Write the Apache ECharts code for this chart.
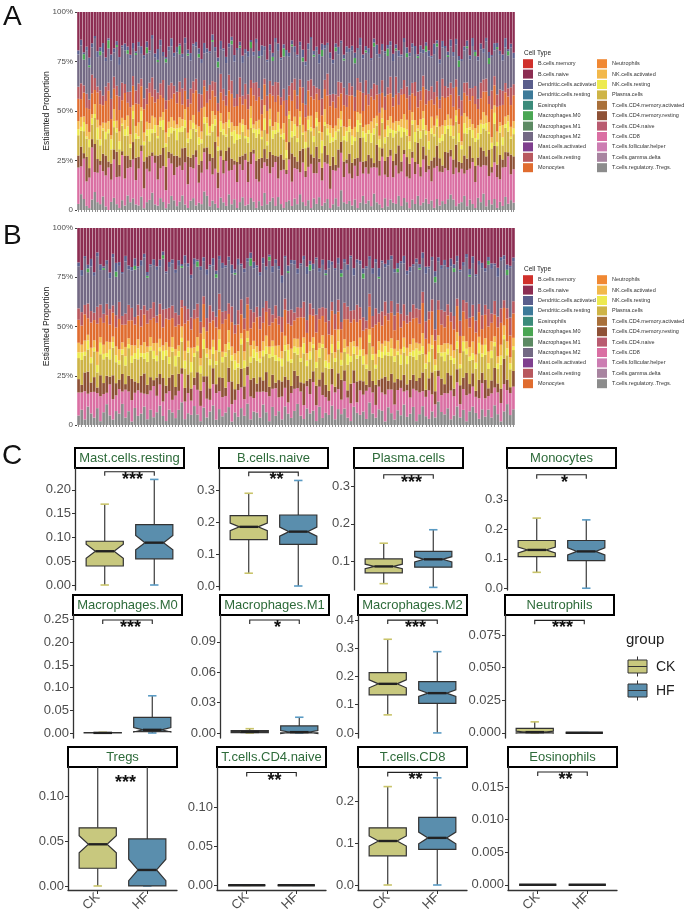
<!DOCTYPE html>
<html><head><meta charset="utf-8">
<script src="https://cdn.jsdelivr.net/npm/echarts@6/dist/echarts.min.js"></script>
<style>html,body{margin:0;padding:0;background:#fff}#c{width:690px;height:915px}</style>
</head><body><div id="c"></div>
<script>
// ---------- Cell types (legend order) ----------
const cellTypes = ['B.cells.memory','B.cells.naive','Dendritic.cells.activated','Dendritic.cells.resting','Eosinophils','Macrophages.M0','Macrophages.M1','Macrophages.M2','Mast.cells.activated','Mast.cells.resting','Monocytes','Neutrophils','NK.cells.activated','NK.cells.resting','Plasma.cells','T.cells.CD4.memory.activated','T.cells.CD4.memory.resting','T.cells.CD4.naive','T.cells.CD8','T.cells.follicular.helper','T.cells.gamma.delta','T.cells.regulatory..Tregs.'];
const propTicks = [0, 0.25, 0.5, 0.75, 1];
const propTickLabels = ['0', '25%', '50%', '75%', '100%'];

// ---------- Panel A estimated proportions (percent, per sample) ----------
const tregsA = [3,8,6,2,1,5,9,4,3,7,2,0,4,6,3,1,5,2,8,4,6,3,2,7,1,4,5,9,3,2,6,4,1,3,7,5,2,4,8,3,1,5,6,2,4,3,9,7,2,5,3,1,6,4,2,8,3,5,1,4,7,2,3,6,4,1,5,2,9,3,4,6,2,7,3,1,4,5,2,6,3,8,4,2,5,1,6,3,7,2,4,5,1,3,6,2,9,4,3,5,2,6,1,4,7,3,5,2,8,4,3,1,6,2,5,4,3,7,2,6,4,1,5,3,8,2,4,6,3,5,1,7,2,4,3,6,9,5,2,3,4,7,2,5,3,1,6,4,8,2,5,3,6,1,4,2,7,3,5,4];
const cd8A = [18,14,22,12,16,25,10,15,20,13,17,21,11,19,14,16,23,12,15,18,20,13,16,24,11,17,14,19,22,12,15,18,10,21,16,13,20,17,14,23,12,18,15,21,11,16,19,13,24,14,17,10,20,15,22,12,18,16,13,19,15,21,12,17,23,14,11,18,16,20,13,15,22,10,17,19,14,21,12,16,18,11,20,14,17,23,13,15,19,12,22,16,10,18,14,21,17,13,20,15,12,19,16,22,11,17,14,20,13,18,15,24,12,16,21,14,19,11,17,22,13,16,20,15,18,12,23,14,17,10,19,21,15,13,18,16,22,12,20,14,17,11,19,15,21,13,16,18,14,22,12,17,20,15,11,19,16,23,13,18];
const cd4MemRestingA = [6,10,3,12,5,4,14,7,2,9,11,3,8,5,13,6,2,10,7,4,9,12,5,3,15,6,8,2,4,11,7,9,13,3,5,10,6,4,12,8,14,5,7,3,10,6,2,11,4,9,13,8,3,7,5,12,6,2,10,4,8,3,11,6,2,9,13,5,7,4,10,6,3,12,8,5,2,9,14,6,4,11,7,3,10,5,8,13,2,6,9,4,12,7,3,10,5,8,2,11,7,4,9,13,6,3,10,5,2,12,8,4,7,11,3,9,6,14,5,2,10,8,3,6,12,4,7,9,2,11,5,13,6,3,8,10,4,7,12,5,3,9,6,11,2,8,4,10,7,5,13,3,9,6,12,4,8,2,10,7];
const plasmaA = [10,8,12,9,11,7,13,10,8,12,9,14,7,11,10,8,13,9,11,6,12,10,8,13,9,11,7,10,12,8,14,9,11,7,10,13,8,12,9,11,7,10,13,8,11,9,12,6,10,14,8,11,9,13,7,10,12,8,11,9,13,7,10,12,8,11,14,9,10,7,12,8,11,13,9,10,6,12,8,11,10,13,7,11,9,12,8,10,14,7,11,9,12,8,13,10,7,11,9,12,8,10,13,7,12,9,11,8,14,10,7,12,9,11,8,13,10,7,12,9,11,8,13,10,7,12,9,11,8,14,10,12,7,11,9,13,8,10,12,9,7,11,13,8,10,12,9,7,11,14,8,10,12,9,11,7,13,10,8,12];
const nkRestingA = [3,2,5,1,4,3,2,6,3,1,4,2,5,3,2,4,1,3,5,2,4,3,1,5,2,3,6,2,4,1,3,5,2,4,3,1,6,2,3,4,2,5,3,1,4,2,3,6,1,4,3,2,5,3,1,4,2,6,3,2,4,1,3,5,2,4,3,1,6,2,3,4,2,5,1,3,4,2,3,6,2,4,1,3,5,2,3,4,1,6,2,3,5,2,4,1,3,2,5,3,4,2,6,1,3,4,2,5,3,1,4,2,3,6,2,4,1,3,5,2,3,4,2,5,1,3,6,2,4,3,1,5,2,3,4,2,6,1,3,4,2,5,3,1,4,2,3,5,2,4,1,3,6,2,3,4,2,5,1,3];
const nkActivatedA = [4,5,3,6,4,2,5,4,7,3,5,4,2,6,4,5,3,4,6,5,3,4,6,2,5,4,3,7,4,5,2,4,6,3,5,4,2,5,4,6,3,5,4,2,6,4,5,3,4,7,2,5,4,3,6,4,5,2,4,6,3,5,4,6,2,4,5,3,7,4,5,2,4,6,3,5,4,2,5,4,6,3,4,5,2,6,4,3,5,4,7,2,4,5,3,6,4,5,2,4,3,6,4,5,2,4,3,6,5,4,2,5,4,3,6,4,5,2,4,7,5,3,4,6,2,5,4,3,5,6,4,2,5,4,3,6,4,5,3,4,2,5,6,4,3,5,4,2,6,4,5,3,4,5,2,6,4,3,5,4];
const monocytesA = [11,9,13,8,12,10,7,14,11,9,12,15,8,10,13,11,9,12,7,14,10,12,8,11,13,9,15,10,8,12,11,7,13,10,9,14,11,12,8,10,13,9,11,15,8,12,10,7,14,11,9,13,10,12,8,11,15,9,10,13,8,12,11,9,14,10,13,8,11,12,7,15,10,9,12,11,13,8,10,14,9,12,11,7,13,10,15,9,12,8,11,13,10,14,9,12,8,11,10,13,15,9,11,12,8,14,10,13,9,11,12,7,10,14,11,9,13,8,12,10,11,14,9,12,10,8,13,11,15,9,10,12,8,13,11,10,14,9,12,7,13,10,11,9,14,12,8,11,10,13,9,15,11,12,8,10,13,9,11,14];
const mastRestingA = [6,8,4,7,5,9,6,3,7,5,8,4,10,6,5,7,9,4,6,8,5,7,9,4,6,8,5,10,7,3,6,9,5,7,8,4,6,5,9,7,4,8,6,5,10,7,3,6,8,5,7,4,9,6,5,8,7,4,6,10,5,7,8,4,6,9,5,7,3,8,6,5,10,7,4,6,8,5,9,6,7,4,8,6,5,9,7,3,6,8,5,10,6,4,7,8,5,9,6,7,4,8,6,5,9,7,6,4,8,5,10,6,7,4,8,5,9,6,3,7,6,8,5,7,9,4,6,8,5,7,6,10,4,8,6,5,7,9,4,6,8,5,7,6,4,9,5,8,6,7,4,10,5,6,8,7,5,4,9,6];
const m2A = [16,19,14,21,17,13,20,15,18,22,14,17,19,12,20,16,18,15,21,17,14,19,16,13,22,18,15,20,17,14,19,12,21,16,18,15,20,13,17,19,22,15,18,14,20,16,13,19,17,21,15,18,12,20,16,14,19,17,22,15,18,14,20,16,13,19,17,21,15,18,14,12,20,17,19,16,22,15,18,14,20,17,13,19,16,21,15,18,14,20,17,13,19,16,22,15,18,14,21,17,16,19,14,20,17,13,21,15,18,16,19,14,22,17,15,20,13,18,16,19,15,21,17,14,19,16,12,20,17,15,18,22,16,14,19,17,21,15,18,13,20,16,18,14,21,15,19,17,13,20,16,18,14,22,17,15,19,16,20,14];
const dcActivatedA = [2,3,1,2,4,2,1,3,2,5,2,1,3,2,2,4,1,3,2,2,3,1,2,4,2,3,1,2,2,5,3,2,1,2,4,2,3,1,2,3,2,4,1,2,3,2,5,2,1,3,2,2,4,1,3,2,2,3,1,2,4,2,3,1,2,2,3,5,2,1,3,2,2,4,1,2,3,2,2,3,1,2,4,2,3,1,2,2,5,3,2,1,3,2,2,4,1,2,3,2,2,3,1,4,2,2,3,1,2,5,2,3,1,2,2,4,2,3,1,2,3,2,2,4,1,3,2,2,3,1,5,2,2,3,1,2,4,2,3,2,1,2,3,2,4,1,2,3,2,2,3,1,4,2,2,3,5,1,2,3];
const m0A = [0,0,3,0,1,0,0,0,2,0,0,4,0,0,1,0,0,0,2,0,0,1,0,0,0,3,0,0,0,1,0,0,2,0,0,0,0,4,0,0,1,0,0,0,2,0,0,0,0,1,0,3,0,0,0,0,2,0,0,1,0,0,0,3,0,0,1,0,0,0,0,2,0,0,0,4,0,0,1,0,0,0,2,0,0,0,1,0,0,3,0,0,0,0,2,0,0,1,0,0,0,3,0,0,0,1,0,0,2,0,0,0,0,4,0,0,1,0,0,0,2,0,0,0,1,0,0,3,0,0,0,2,0,0,0,1,0,0,0,3,0,0,1,0,0,2,0,0,0,0,3,0,0,1,0,0,0,2,0,0];
const bNaiveA = [19,14,22,17,24,15,12,20,18,16,25,13,21,18,15,23,17,14,19,22,16,21,13,18,24,15,19,12,22,17,14,20,25,16,13,21,18,15,23,14,19,22,16,13,20,24,15,18,21,12,17,23,14,19,22,16,13,20,18,15,24,17,21,14,19,13,22,16,18,25,15,20,13,17,23,16,19,21,14,18,22,15,19,24,16,13,20,17,23,15,18,14,21,25,16,19,13,22,17,20,15,23,18,14,21,16,19,24,13,17,22,15,20,18,14,23,16,19,21,13,18,22,15,17,24,14,20,16,19,23,15,18,21,13,17,22,16,19,14,20,24,17,15,21,13,19,22,16,18,14,20,23,17,15,19,21,14,18,16,22];

// ---------- Panel B estimated proportions (percent, per sample) ----------
const tregsB = [5,8,3,10,6,4,9,2,7,11,5,3,8,6,12,4,7,2,9,5,6,10,3,8,4,7,11,5,2,9,6,4,8,12,3,7,5,10,6,2,9,4,7,11,3,8,5,6,10,2,7,4,9,5,12,3,8,6,4,11,7,2,9,5,8,3,10,6,4,7,12,5,3,9,6,8,2,10,4,7,5,11,3,8,6,9,4,2,10,7,5,8,3,12,6,4,9,7,2,10,6,3,8,5,11,4,7,9,2,6,10,5,3,8,4,12,7,6,9,3,5,10,4,8,2,7,11,6,3,9,5,8,4,10,6,2,7,12,5,9];
const cd8B = [12,9,15,7,11,14,8,13,10,6,16,11,9,13,7,15,10,12,8,14,11,7,13,10,16,9,12,8,14,11,6,13,10,15,9,12,7,11,14,8,13,10,6,12,15,9,11,8,14,10,7,13,11,9,16,12,8,10,14,7,11,13,9,15,8,12,10,6,14,11,9,13,7,12,10,16,8,11,13,9,7,12,14,10,8,15,11,9,13,6,12,10,14,8,11,7,13,9,15,10,12,8,11,14,7,13,10,9,16,12,8,11,14,10,7,13,9,12,8,15,10,13,7,11,14,9,12,8,10,15,11,7,13,9,12,10,14,8,11,13];
const cd4MemRestingB = [7,4,10,12,5,8,3,11,6,9,4,13,7,5,10,3,8,12,6,4,9,11,5,7,3,10,6,13,4,8,12,5,9,3,7,11,6,4,10,8,3,12,6,9,5,7,11,4,8,13,6,3,10,7,5,9,12,4,8,6,11,5,7,3,10,8,6,12,4,9,7,5,11,3,8,6,10,4,13,7,5,9,3,8,11,6,4,10,7,12,5,8,3,9,6,11,4,7,10,5,8,12,6,4,9,3,11,7,5,8,10,4,6,13,7,3,9,5,11,8,4,7,10,6,12,5,8,3,9,6,11,4,7,10,5,8,13,6,3,9];
const plasmaB = [11,13,9,12,10,14,8,11,13,10,9,15,12,8,11,10,14,9,12,13,10,8,12,14,11,9,13,10,15,8,11,12,9,14,10,13,8,11,12,9,14,10,12,8,11,13,9,15,10,12,11,8,13,10,14,9,12,11,8,13,10,15,9,12,11,8,14,10,13,9,12,11,15,8,10,13,9,12,14,10,11,9,13,12,8,10,14,11,9,13,12,10,8,15,11,9,13,10,12,14,9,11,13,8,12,10,15,9,11,13,10,12,8,14,11,9,12,13,10,8,13,11,9,14,10,12,8,11,13,9,15,10,12,11,8,13,10,14,9,12];
const nkRestingB = [3,4,2,5,3,2,4,6,3,2,5,3,4,2,3,5,2,4,3,6,2,3,5,2,4,3,2,5,3,4,2,6,3,2,4,3,5,2,3,4,5,2,3,4,2,6,3,2,4,3,5,2,3,4,2,3,5,4,2,3,4,2,5,3,2,4,3,6,2,3,4,2,5,3,4,2,3,5,2,4,3,5,2,4,3,2,6,3,4,2,3,5,2,4,3,2,4,3,5,2,4,3,2,5,3,4,2,3,6,2,4,3,5,2,3,4,2,5,3,2,3,4,2,5,3,2,4,3,5,2,6,3,4,2,3,5,2,4,3,2];
const nkActivatedB = [5,4,6,3,5,4,7,3,5,6,4,3,5,6,4,5,3,6,4,5,4,6,3,5,4,7,5,3,4,6,5,4,3,6,5,4,7,3,5,4,6,3,5,4,6,5,3,4,7,5,4,6,3,5,4,6,5,3,4,5,6,4,3,5,7,4,5,3,6,4,5,6,3,4,5,4,6,3,5,7,4,5,3,6,4,5,4,7,3,5,6,4,5,3,4,6,5,4,3,6,5,4,6,3,5,4,5,6,3,4,7,5,4,6,3,5,4,5,3,6,4,5,6,3,4,5,7,4,3,5,4,6,5,3,4,6,5,4,3,5];
const monocytesB = [12,10,14,9,13,11,15,10,12,14,9,13,11,16,10,12,9,14,11,13,10,15,12,9,13,11,14,10,12,16,9,13,11,10,14,12,9,15,11,13,12,9,14,11,13,10,16,12,9,14,11,13,10,12,15,9,11,14,12,10,13,11,9,15,12,10,14,11,13,9,12,16,10,11,14,12,9,13,11,15,10,14,12,9,13,11,15,10,12,14,9,11,13,12,10,16,11,9,14,12,13,10,15,11,9,12,14,10,13,11,16,9,12,14,10,13,11,9,15,12,11,14,9,13,12,10,15,11,12,9,14,13,10,11,16,12,9,13,11,14];
const mastRestingB = [6,7,5,8,6,4,9,7,5,6,8,4,7,9,5,6,8,7,4,6,9,5,7,6,8,4,6,10,5,7,6,8,5,4,9,7,6,5,8,6,4,7,9,5,6,8,7,4,6,9,5,7,8,6,4,10,6,5,7,8,6,9,4,7,5,8,6,7,9,4,6,5,8,7,6,4,9,6,5,8,7,5,8,6,4,9,7,6,5,10,6,8,4,7,6,9,5,7,8,4,6,8,5,7,9,4,6,7,5,8,6,10,4,7,6,5,8,9,6,5,7,4,8,6,9,5,7,6,4,8,6,9,5,7,6,8,4,6,9,7];
const m2B = [22,19,25,17,23,20,27,18,24,21,16,26,22,19,24,28,18,21,25,20,23,26,17,22,19,25,21,28,18,24,20,23,26,17,22,25,19,24,21,27,18,23,20,26,22,17,25,21,24,19,28,22,18,25,20,23,26,19,22,24,17,25,21,23,27,18,22,20,26,24,19,23,21,25,17,22,28,20,24,19,26,21,23,18,25,22,20,27,19,24,21,23,26,18,22,25,20,24,19,27,21,23,17,26,22,20,25,19,24,22,18,27,21,23,25,20,22,26,19,24,23,20,26,18,24,21,25,22,19,27,20,23,24,18,22,26,21,19,25,23];
const dcActivatedB = [2,3,1,2,4,2,2,3,1,2,3,2,5,2,1,3,2,2,4,1,3,2,2,1,3,2,4,2,1,3,2,2,3,1,4,2,2,3,1,2,2,3,1,4,2,2,3,1,2,5,2,3,1,2,2,3,4,1,2,3,2,1,3,2,2,4,1,3,2,2,3,1,2,4,2,3,1,2,3,2,4,2,1,3,2,2,3,1,4,2,2,3,1,2,3,2,5,1,2,3,2,2,3,1,4,2,3,1,2,2,3,4,1,2,3,2,2,3,1,4,2,3,1,2,2,3,4,1,2,3,2,2,3,1,5,2,2,3,1,2];
const m0B = [0,0,0,2,0,0,0,0,1,0,0,0,3,0,0,0,0,0,2,0,0,0,1,0,0,0,0,2,0,0,0,0,0,1,0,0,0,0,3,0,0,0,0,0,2,0,0,0,0,0,1,0,0,0,0,4,0,0,0,0,0,2,0,0,0,0,0,1,0,0,0,0,0,0,3,0,0,0,0,1,0,0,0,0,2,0,0,0,0,0,0,3,0,0,0,0,1,0,0,0,0,0,2,0,0,0,0,0,0,1,0,0,0,0,3,0,0,0,0,0,2,0,0,0,0,1,0,0,0,0,0,2,0,0,0,0,0,3,0,0];
const bNaiveB = [18,22,15,20,16,24,13,19,21,17,23,14,20,18,25,15,19,22,16,21,17,14,23,19,16,21,18,13,22,20,15,24,17,19,14,21,23,16,18,20,15,22,19,17,24,14,20,18,16,21,23,15,19,22,17,13,20,18,24,16,21,14,19,17,22,25,15,20,18,16,23,19,14,21,17,20,15,22,18,24,16,19,21,15,23,17,20,14,22,18,16,24,19,15,21,17,23,16,20,18,14,22,19,17,15,21,24,18,16,20,13,22,19,17,23,15,20,18,21,16,19,15,22,18,14,21,17,23,16,20,24,15,19,18,22,16,14,21,19,17];

// ---------- Panel C boxplots ----------
const groups = ['CK', 'HF'];
const boxTitles = ['Mast.cells.resting','B.cells.naive','Plasma.cells','Monocytes','Macrophages.M0','Macrophages.M1','Macrophages.M2','Neutrophils','Tregs','T.cells.CD4.naive','T.cells.CD8','Eosinophils'];
const sigLabels = ['***','**','***','*','***','*','***','***','***','**','**','**'];
// [min, Q1, median, Q3, max]
const ckStats = [
  [0, 0.040, 0.071, 0.092, 0.170],
  [0.040, 0.145, 0.185, 0.220, 0.290],
  [0.040, 0.069, 0.086, 0.106, 0.148],
  [0.054, 0.107, 0.130, 0.162, 0.238],
  [0, 0, 0.0003, 0.0008, 0.0015],
  [0, 0.0003, 0.001, 0.0023, 0.0042],
  [0.064, 0.135, 0.174, 0.214, 0.332],
  [0, 0, 0.0005, 0.0034, 0.0084],
  [0, 0.0198, 0.0466, 0.065, 0.16],
  [0, 0, 0, 0, 0.0003],
  [0, 0.070, 0.1055, 0.137, 0.236],
  [0, 0, 0, 0, 0]
];
const hfStats = [
  [0, 0.055, 0.089, 0.127, 0.222],
  [0, 0.130, 0.170, 0.222, 0.330],
  [0.030, 0.084, 0.105, 0.126, 0.184],
  [0, 0.094, 0.125, 0.162, 0.232],
  [0, 0.003, 0.007, 0.0346, 0.082],
  [0, 0, 0.0008, 0.0069, 0.0155],
  [0, 0.105, 0.141, 0.182, 0.288],
  [0, 0, 0, 0, 0.0002],
  [0, 0, 0.0179, 0.0526, 0.16],
  [0, 0, 0, 0, 0.0003],
  [0, 0.0856, 0.113, 0.162, 0.257],
  [0, 0, 0, 0, 0]
];
const ckNotch = [0.015, 0.012, 0.006, 0.010, 0.0002, 0.0005, 0.014, 0.0008, 0.0095, 0, 0.012, 0];
const hfNotch = [0.015, 0.014, 0.007, 0.012, 0.005, 0.0015, 0.012, 0, 0.012, 0, 0.014, 0];
const sigY = [0.238, 0.356, 0.331, 0.385, 0.249, 0.1115, 0.40, 0.0864, 0.124, 0.1446, 0.270, 0.01734];
const sigBracket = [1,1,1,1,1,1,1,1,0,1,1,1];
const yRanges = [[-0.0105,0.246],[-0.0125,0.369],[0.023,0.349],[-0.006,0.408],[-0.011,0.260],[-0.005,0.1165],[-0.018,0.418],[-0.004,0.0905],[-0.0045,0.133],[-0.006,0.1517],[-0.012,0.283],[-0.0008,0.0181]];
const yTicks = [[0,0.05,0.1,0.15,0.2],[0,0.1,0.2,0.3],[0.1,0.2,0.3],[0,0.1,0.2,0.3],[0,0.05,0.1,0.15,0.2,0.25],[0,0.03,0.06,0.09],[0,0.1,0.2,0.3,0.4],[0,0.025,0.05,0.075],[0,0.05,0.1],[0,0.05,0.1],[0,0.1,0.2],[0,0.005,0.01,0.015]];
const yDecimals = [2,1,1,1,2,2,1,3,2,2,1,3];

// ---------- styles ----------
const palette = {
  'B.cells.memory':'#D0302B','B.cells.naive':'#8C2D52','Dendritic.cells.activated':'#5A5E8C','Dendritic.cells.resting':'#3D7A99',
  'Eosinophils':'#3B8B7A','Macrophages.M0':'#4AA653','Macrophages.M1':'#5C8A63','Macrophages.M2':'#736984',
  'Mast.cells.activated':'#7F3F8E','Mast.cells.resting':'#B8585E','Monocytes':'#E06C2F','Neutrophils':'#F08833',
  'NK.cells.activated':'#F2B84B','NK.cells.resting':'#EDEA4F','Plasma.cells':'#CEB446','T.cells.CD4.memory.activated':'#A9703A',
  'T.cells.CD4.memory.resting':'#8E5136','T.cells.CD4.naive':'#B95B70','T.cells.CD8':'#DA6FA3','T.cells.follicular.helper':'#CC7DB2',
  'T.cells.gamma.delta':'#A884A0','T.cells.regulatory..Tregs.':'#8C8C8C'
};
const FONT = "'Liberation Sans', Arial, sans-serif";
const groupFill = ['#C8C87E', '#5A8EAD'];
const capColor = ['#C9C46A', '#5A9BC4'];

const panelData = {
  A: {'T.cells.regulatory..Tregs.':tregsA,'T.cells.CD8':cd8A,'T.cells.CD4.memory.resting':cd4MemRestingA,'Plasma.cells':plasmaA,'NK.cells.resting':nkRestingA,'NK.cells.activated':nkActivatedA,'Monocytes':monocytesA,'Mast.cells.resting':mastRestingA,'Macrophages.M2':m2A,'Macrophages.M0':m0A,'Dendritic.cells.activated':dcActivatedA,'B.cells.naive':bNaiveA},
  B: {'T.cells.regulatory..Tregs.':tregsB,'T.cells.CD8':cd8B,'T.cells.CD4.memory.resting':cd4MemRestingB,'Plasma.cells':plasmaB,'NK.cells.resting':nkRestingB,'NK.cells.activated':nkActivatedB,'Monocytes':monocytesB,'Mast.cells.resting':mastRestingB,'Macrophages.M2':m2B,'Macrophages.M0':m0B,'Dendritic.cells.activated':dcActivatedB,'B.cells.naive':bNaiveB}
};

const grids = [], xAxes = [], yAxes = [], series = [], graphics = [];
const stackOrder = cellTypes.slice().reverse();

// Panels A and B
[['A', 12, 198], ['B', 228, 197]].forEach(([key, top, h], pi) => {
  const d = panelData[key];
  const n = d['T.cells.CD8'].length;
  const totals = [];
  for (let i = 0; i < n; i++) {
    let s = 0; Object.values(d).forEach(arr => s += (arr[i] || 0)); totals.push(s);
  }
  grids.push({left: 77, top: top, width: 438, height: h});
  xAxes.push({gridIndex: pi, type: 'category', data: totals.map((_, i) => 'S' + (i + 1)),
    axisLine: {show: false}, axisLabel: {show: false},
    axisTick: {show: true, interval: 0, alignWithLabel: true, length: 2, lineStyle: {color: '#444', width: 0.6}}});
  yAxes.push({gridIndex: pi, type: 'value', min: 0, max: 1,
    axisLine: {show: false}, splitLine: {show: false},
    axisTick: {show: true, length: 2, customValues: propTicks, lineStyle: {color: '#444'}},
    axisLabel: {customValues: propTicks, formatter: v => propTickLabels[propTicks.indexOf(v)], fontSize: 8, color: '#4d4d4d', margin: 4, fontFamily: FONT}});
  stackOrder.forEach(name => {
    const arr = d[name];
    series.push({type: 'bar', name: name, xAxisIndex: pi, yAxisIndex: pi, stack: 'p' + key,
      barCategoryGap: '14%', itemStyle: {color: palette[name]},
      data: arr ? totals.map((t, i) => (arr[i] || 0) / t) : []});
  });
  graphics.push({type: 'text', x: 47, y: top + h / 2, rotation: Math.PI / 2,
    style: {text: 'Estiamted Proportion', fontSize: 8.5, fill: '#222', align: 'center', verticalAlign: 'middle', fontFamily: FONT}});
  graphics.push({type: 'text', x: 524, y: top + 41, style: {text: 'Cell Type', fontSize: 6.5, fill: '#222', align: 'left', verticalAlign: 'middle', fontFamily: FONT}});
});

const legends = [];
[59.2, 275.2].forEach(t => {
  legends.push({left: 523, top: t, orient: 'vertical', padding: 0, itemWidth: 10, itemHeight: 9, itemGap: 1.4, icon: 'rect',
    selectedMode: false, data: cellTypes.slice(0, 11), textStyle: {fontSize: 5.5, color: '#333', fontFamily: FONT}});
  legends.push({left: 597, top: t, orient: 'vertical', padding: 0, itemWidth: 10, itemHeight: 9, itemGap: 1.4, icon: 'rect',
    selectedMode: false, data: cellTypes.slice(11), textStyle: {fontSize: 5.5, color: '#333', fontFamily: FONT}});
});

// Panel C layout
const rowTops = [468, 615, 767];
const rowHeights = [122, 123, 123];
const colLefts = [[75, 219, 354, 507], [73, 220, 358, 505], [68, 217, 358, 508]];
const PW = 109;

function boxRender(params, api) {
  const x = api.value(0), mn = api.value(1), q1 = api.value(2), md = api.value(3), q3 = api.value(4), mx = api.value(5), nt = api.value(6), g = api.value(7);
  const c = (a, b) => api.coord([a, b]);
  const bw = 0.375, cap = 0.085;
  let pts;
  if (nt > 0) {
    pts = [c(x - bw, q1), c(x - bw, md - nt), c(x - bw / 2, md), c(x - bw, md + nt), c(x - bw, q3), c(x + bw, q3), c(x + bw, md + nt), c(x + bw / 2, md), c(x + bw, md - nt), c(x + bw, q1)];
  } else {
    pts = [c(x - bw, q1), c(x - bw, q3), c(x + bw, q3), c(x + bw, q1)];
  }
  const L = (a, b, col, w) => ({type: 'line', shape: {x1: a[0], y1: a[1], x2: b[0], y2: b[1]}, style: {stroke: col, lineWidth: w}});
  return {type: 'group', children: [
    L(c(x, q3), c(x, mx), '#3a3a3a', 1.2),
    L(c(x, mn), c(x, q1), '#3a3a3a', 1.2),
    L(c(x - cap, mx), c(x + cap, mx), capColor[g], 1.6),
    L(c(x - cap, mn), c(x + cap, mn), capColor[g], 1.6),
    {type: 'polygon', shape: {points: pts}, style: {fill: groupFill[g], stroke: '#333', lineWidth: 1.2}},
    L(c(x - (nt > 0 ? bw / 2 : bw), md), c(x + (nt > 0 ? bw / 2 : bw), md), '#222', 2.4)
  ]};
}

function sigRender(label) {
  return function (params, api) {
    const y = api.value(0), show = api.value(1);
    const a = api.coord([1, y]), b = api.coord([2, y]);
    const ch = [];
    if (show) ch.push({type: 'polyline', shape: {points: [[a[0], a[1] + 4], a, b, [b[0], b[1] + 4]]}, style: {stroke: '#222', lineWidth: 1.1, fill: null}});
    ch.push({type: 'text', x: (a[0] + b[0]) / 2 + 3, y: a[1] - 1, style: {text: label, fontSize: 18, fontWeight: 'bold', fill: '#111', align: 'center', verticalAlign: 'top', fontFamily: FONT}});
    return {type: 'group', children: ch};
  };
}

boxTitles.forEach((title, k) => {
  const r = Math.floor(k / 4), col = k % 4;
  const gi = grids.length;
  const left = colLefts[r][col], top = rowTops[r];
  grids.push({left: left, top: top, width: PW, height: rowHeights[r]});
  const bottomRow = r === 2;
  xAxes.push({gridIndex: gi, type: 'value', min: 0.4, max: 2.6, splitLine: {show: false},
    axisLine: {show: bottomRow, onZero: false, lineStyle: {color: '#333', width: 1.3}},
    axisTick: {show: bottomRow, customValues: [1, 2], length: 4, lineStyle: {color: '#333'}},
    axisLabel: {show: bottomRow, customValues: [1, 2], formatter: v => groups[Math.round(v) - 1], rotate: 45, fontSize: 13, color: '#4d4d4d', margin: 5, fontFamily: FONT}});
  const dec = yDecimals[k];
  yAxes.push({gridIndex: gi, type: 'value', min: yRanges[k][0], max: yRanges[k][1], splitLine: {show: false},
    axisLine: {show: true, onZero: false, lineStyle: {color: '#333', width: 1.3}},
    axisTick: {show: true, customValues: yTicks[k], length: 3, lineStyle: {color: '#333'}},
    axisLabel: {customValues: yTicks[k], formatter: v => Number(v).toFixed(dec), fontSize: 13, color: '#4d4d4d', margin: 4, fontFamily: FONT}});
  series.push({type: 'custom', name: title, xAxisIndex: gi, yAxisIndex: gi, clip: true, renderItem: boxRender,
    data: [[1].concat(ckStats[k], [ckNotch[k], 0]), [2].concat(hfStats[k], [hfNotch[k], 1])]});
  series.push({type: 'custom', name: title + ' sig', xAxisIndex: gi, yAxisIndex: gi, clip: false, renderItem: sigRender(sigLabels[k]),
    data: [[sigY[k], sigBracket[k]]]});
  graphics.push({type: 'rect', shape: {x: left, y: top - 20, width: PW, height: 20}, style: {fill: '#fff', stroke: '#000', lineWidth: 2}});
  graphics.push({type: 'text', x: left + PW / 2, y: top - 10, style: {text: title, fontSize: 13, fill: '#2E6B3A', align: 'center', verticalAlign: 'middle', fontFamily: FONT}});
});

// Panel letters
[['A', 3, 3], ['B', 3, 222], ['C', 2, 442]].forEach(([t, x, y]) => {
  graphics.push({type: 'text', x: x, y: y, style: {text: t, fontSize: 28, fill: '#111', align: 'left', verticalAlign: 'top', fontFamily: FONT}});
});

// group legend
graphics.push({type: 'text', x: 626, y: 640, style: {text: 'group', fontSize: 15, fill: '#222', align: 'left', verticalAlign: 'middle', fontFamily: FONT}});
[[660, 0], [684, 1]].forEach(([y, g]) => {
  graphics.push({type: 'line', shape: {x1: 637.5, y1: y - 3.5, x2: 637.5, y2: y + 16.5}, style: {stroke: '#333', lineWidth: 1}});
  graphics.push({type: 'rect', shape: {x: 628, y: y, width: 19, height: 13}, style: {fill: groupFill[g], stroke: '#333', lineWidth: 1}});
  graphics.push({type: 'line', shape: {x1: 628, y1: y + 6.5, x2: 647, y2: y + 6.5}, style: {stroke: '#333', lineWidth: 1}});
  graphics.push({type: 'text', x: 656, y: y + 7, style: {text: groups[g], fontSize: 14, fill: '#222', align: 'left', verticalAlign: 'middle', fontFamily: FONT}});
});

const chart = echarts.init(document.getElementById('c'), null, {renderer: 'canvas'});
chart.setOption({
  animation: false,
  textStyle: {fontFamily: FONT},
  grid: grids, xAxis: xAxes, yAxis: yAxes, legend: legends, series: series, graphic: graphics
});
</script></body></html>
